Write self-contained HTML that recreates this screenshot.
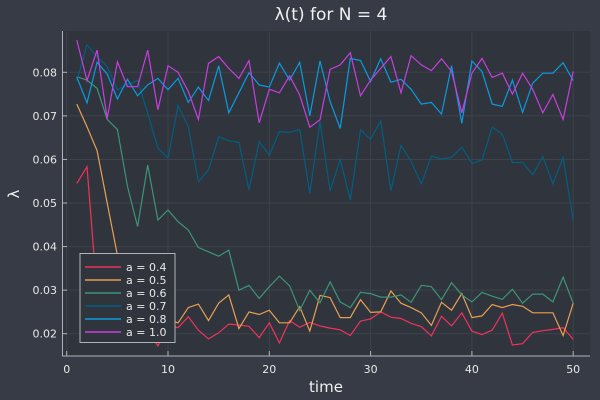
<!DOCTYPE html>
<html><head><meta charset="utf-8"><style>
html,body{margin:0;padding:0;background:#363b45;}
svg{display:block;font-family:"DejaVu Sans","Liberation Sans",sans-serif;}
</style></head><body>
<svg id="chart" width="600" height="400">
<rect x="0" y="0" width="600" height="400" fill="#363b45"/>
<rect x="62" y="31" width="528" height="325" fill="#30343c"/>
<text x="331" y="20" fill="#f0f0f0" font-size="17" text-anchor="middle">λ(t) for N = 4</text>
<text x="326" y="392" fill="#f0f0f0" font-size="15" text-anchor="middle">time</text>
<text x="0" y="0" fill="#f0f0f0" font-size="15" text-anchor="middle" transform="translate(19,194) rotate(-90)">λ</text>
<g id="grid"></g><g id="axes"></g><g id="series"></g><g id="legend"></g>
</svg>
<script>
const xTicks=[0,10,20,30,40,50];
const yTicks=[0.02,0.03,0.04,0.05,0.06,0.07,0.08];
const yTickLabels=["0.02","0.03","0.04","0.05","0.06","0.07","0.08"];
const seriesNames=["a = 0.4","a = 0.5","a = 0.6","a = 0.7","a = 0.8","a = 1.0"];
const seriesColors=["#f0325c","#e8a052","#3d9478","#015f82","#0b9be0","#c83fe0"];
const s04=[0.0545,0.0583,0.029,0.022,0.020,0.021,0.020,0.021,0.0172,0.0218,0.0214,0.0239,0.0208,0.0188,0.0202,0.0222,0.022,0.0217,0.0191,0.0225,0.0179,0.023,0.0215,0.0226,0.0218,0.0213,0.0209,0.0196,0.0229,0.0234,0.025,0.0238,0.0235,0.0224,0.0216,0.0195,0.024,0.0218,0.0248,0.0206,0.0198,0.0208,0.0247,0.0174,0.0177,0.0203,0.0207,0.021,0.0214,0.0187];
const s05=[0.0727,0.0675,0.062,0.050,0.038,0.031,0.027,0.024,0.022,0.0231,0.0225,0.026,0.0268,0.023,0.027,0.0289,0.0212,0.025,0.0244,0.0254,0.0225,0.0225,0.0262,0.0206,0.0288,0.0283,0.0237,0.0237,0.0278,0.0249,0.025,0.0298,0.027,0.026,0.0248,0.0219,0.0272,0.0254,0.0292,0.0237,0.0241,0.0267,0.026,0.0267,0.0263,0.0248,0.0248,0.0248,0.0196,0.027];
const s06=[0.079,0.0782,0.0763,0.0692,0.0669,0.0538,0.0446,0.0587,0.0461,0.0484,0.0457,0.0438,0.0398,0.0388,0.0378,0.0392,0.030,0.0311,0.0281,0.0308,0.0332,0.031,0.0253,0.030,0.0271,0.0319,0.0273,0.026,0.0295,0.0292,0.0284,0.0284,0.0289,0.0272,0.0311,0.0308,0.0278,0.0317,0.0289,0.0273,0.0295,0.0286,0.0279,0.0302,0.027,0.0291,0.0291,0.0273,0.033,0.027];
const s07=[0.078,0.0863,0.0836,0.0813,0.076,0.0771,0.0782,0.0706,0.0626,0.0603,0.0723,0.0675,0.0549,0.0576,0.0652,0.0643,0.0639,0.053,0.0641,0.061,0.0664,0.0662,0.0669,0.0522,0.0687,0.0528,0.06,0.0507,0.0668,0.0646,0.0689,0.0528,0.0632,0.0595,0.0544,0.0608,0.0601,0.0605,0.0628,0.0591,0.0599,0.0674,0.0658,0.0593,0.0593,0.0565,0.0606,0.0544,0.0605,0.046];
const s08=[0.0789,0.073,0.0823,0.0796,0.0739,0.0784,0.0746,0.0771,0.0786,0.076,0.0786,0.0731,0.0766,0.0735,0.0815,0.0707,0.0753,0.0799,0.0771,0.0766,0.0821,0.0782,0.0823,0.070,0.0826,0.0733,0.0671,0.0832,0.0827,0.0779,0.0831,0.0777,0.0784,0.0761,0.0727,0.0731,0.0704,0.0815,0.0683,0.0826,0.0802,0.0727,0.0722,0.0782,0.0708,0.0775,0.0798,0.0798,0.0822,0.0781];
const s10=[0.0874,0.0781,0.0851,0.0694,0.0824,0.0767,0.0767,0.0851,0.0714,0.0815,0.08,0.0756,0.0692,0.0821,0.0836,0.0809,0.0786,0.0827,0.0684,0.0761,0.0753,0.0792,0.0748,0.0674,0.0691,0.0807,0.0817,0.0845,0.0746,0.0782,0.0809,0.0836,0.0753,0.0838,0.0817,0.0804,0.0831,0.0802,0.0707,0.0798,0.0832,0.0788,0.0798,0.075,0.0798,0.0761,0.0707,0.0749,0.0692,0.0802];
const allSeries=[s04,s05,s06,s07,s08,s10];
const NS="http://www.w3.org/2000/svg";
function xs(v){return 66.7+v*10.13;}
function ys(v){return 72.3+(0.08-v)*4357;}
function mk(tag,parent){const e=document.createElementNS(NS,tag);parent.appendChild(e);return e;}
const grid=document.getElementById('grid'),axes=document.getElementById('axes'),ser=document.getElementById('series'),leg=document.getElementById('legend');
xTicks.forEach(t=>{
  const l=mk('line',grid);l.setAttribute('x1',xs(t));l.setAttribute('x2',xs(t));l.setAttribute('y1',31);l.setAttribute('y2',356);l.setAttribute('stroke','#3d424b');l.setAttribute('stroke-width','1');
  
  
  const k=mk('line',axes);k.setAttribute('x1',xs(t));k.setAttribute('x2',xs(t));k.setAttribute('y1',351);k.setAttribute('y2',356);k.setAttribute('stroke','#b0b4ba');
  
  
  const tx=mk('text',axes);tx.setAttribute('x',xs(t));tx.setAttribute('y',373);tx.setAttribute('fill','#e8e8e8');tx.setAttribute('font-size','11');tx.setAttribute('text-anchor','middle');tx.textContent=t;
  
  
});
yTicks.forEach((t,i)=>{
  const l=mk('line',grid);l.setAttribute('x1',62);l.setAttribute('x2',590);l.setAttribute('y1',ys(t));l.setAttribute('y2',ys(t));l.setAttribute('stroke','#3d424b');
  
  
  const k=mk('line',axes);k.setAttribute('x1',62);k.setAttribute('x2',67);k.setAttribute('y1',ys(t));k.setAttribute('y2',ys(t));k.setAttribute('stroke','#b0b4ba');
  
  
  const tx=mk('text',axes);tx.setAttribute('x',57);tx.setAttribute('y',ys(t)+4);tx.setAttribute('fill','#e8e8e8');tx.setAttribute('font-size','11');tx.setAttribute('text-anchor','end');tx.textContent=yTickLabels[i];
  
  
});
const ax=mk('path',axes);ax.setAttribute('d','M62.5 31 V356 H590');ax.setAttribute('stroke','#b0b4ba');ax.setAttribute('fill','none');


allSeries.forEach((s,i)=>{
  const p=mk('polyline',ser);
  p.setAttribute('points',s.map((v,j)=>xs(j+1).toFixed(1)+','+ys(v).toFixed(1)).join(' '));
  p.setAttribute('fill','none');p.setAttribute('stroke',seriesColors[i]);p.setAttribute('stroke-width','1.2');
  
  
});
const box=mk('rect',leg);box.setAttribute('x',80);box.setAttribute('y',253.5);box.setAttribute('width',95);box.setAttribute('height',89);box.setAttribute('fill','#30343c');box.setAttribute('stroke','#b0b4ba');


seriesNames.forEach((n,i)=>{
  const y=267+i*13;
  const l=mk('line',leg);l.setAttribute('x1',85);l.setAttribute('x2',121);l.setAttribute('y1',y);l.setAttribute('y2',y);l.setAttribute('stroke',seriesColors[i]);l.setAttribute('stroke-width','1.5');
  
  
  const t=mk('text',leg);t.setAttribute('x',126);t.setAttribute('y',y+4);t.setAttribute('fill','#e8e8e8');t.setAttribute('font-size','11');t.textContent=n;
  
  
});
</script>
</body></html>
